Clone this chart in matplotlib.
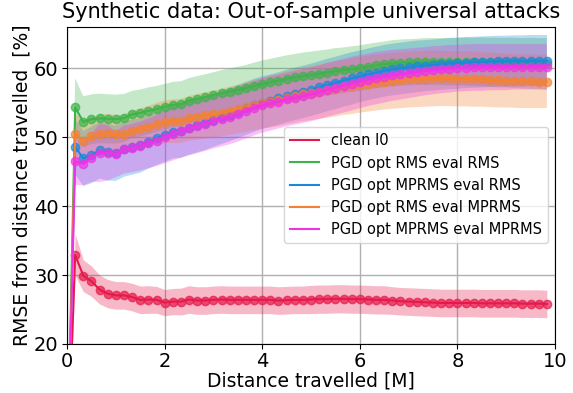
import numpy as np
import matplotlib
matplotlib.use("Agg")
import matplotlib.pyplot as plt

# 采样点: 每 1/6 M 一个
dist = np.arange(60) / 6

clean_mean = [0, 32.9, 29.9, 29.1, 27.9, 27.3, 27.05, 27.05, 26.8, 26.4,
              26.45, 26.4, 26.0, 26.15, 26.15, 26.45, 26.3, 26.3, 26.4, 26.45,
              26.4, 26.4, 26.4, 26.4, 26.4, 26.4, 26.3, 26.35, 26.4, 26.4,
              26.45, 26.5, 26.5, 26.55, 26.55, 26.5, 26.5, 26.45, 26.4, 26.4,
              26.3, 26.2, 26.15, 26.1, 26.05, 26.0, 25.95, 25.95, 25.95, 25.95,
              25.95, 25.9, 25.9, 25.9, 25.9, 25.9, 25.85, 25.85, 25.85, 25.8]
clean_std = [0, 3.0, 2.3, 2.2, 2.1, 2.05, 2.0, 2.0, 2.0, 2.0,
             2.0, 1.95, 1.9, 1.9, 1.95, 2.0, 2.0, 2.0, 2.0, 2.0,
             2.0, 2.0, 2.0, 2.0, 2.0, 2.0, 2.0, 2.0, 2.0, 2.0,
             2.05, 2.05, 2.05, 2.05, 2.05, 2.05, 2.05, 2.05, 2.05, 2.05,
             2.0, 2.0, 2.0, 2.0, 2.0, 2.0, 2.0, 2.0, 2.0, 2.0,
             2.0, 2.0, 2.0, 2.0, 2.0, 2.0, 2.0, 2.0, 2.0, 2.0]

rms_rms_mean = [0, 54.3, 52.2, 52.6, 52.7, 52.65, 52.6, 52.75, 53.3, 53.5,
                53.8, 54.05, 54.4, 54.7, 54.8, 55.3, 55.55, 55.8, 56.1, 56.35,
                56.6, 56.85, 57.1, 57.4, 57.7, 57.95, 58.2, 58.45, 58.65, 58.85,
                59.0, 59.2, 59.35, 59.55, 59.7, 59.85, 60.0, 60.2, 60.4, 60.55,
                60.7, 60.8, 60.85, 60.9, 60.95, 60.95, 60.95, 60.95, 60.95, 60.95,
                60.9, 60.9, 60.85, 60.8, 60.8, 60.75, 60.7, 60.7, 60.65, 60.6]
rms_rms_std = [0, 4.25, 3.7, 3.6, 3.6, 3.55, 3.55, 3.5, 3.4, 3.4,
               3.4, 3.35, 3.3, 3.3, 3.3, 3.25, 3.3, 3.3, 3.3, 3.35,
               3.35, 3.35, 3.35, 3.4, 3.4, 3.4, 3.4, 3.4, 3.4, 3.4,
               3.4, 3.35, 3.35, 3.35, 3.3, 3.3, 3.3, 3.3, 3.3, 3.3,
               3.35, 3.35, 3.35, 3.35, 3.4, 3.4, 3.4, 3.45, 3.45, 3.5,
               3.5, 3.55, 3.55, 3.6, 3.6, 3.65, 3.65, 3.7, 3.7, 3.75]

mp_rms_mean = [0, 48.6, 46.9, 47.4, 48.1, 47.8, 47.65, 48.25, 48.55, 48.8,
               49.3, 49.85, 50.3, 50.8, 50.9, 51.35, 51.7, 52.05, 52.45, 52.85,
               53.25, 53.7, 54.15, 54.6, 55.0, 55.3, 55.6, 55.95, 56.25, 56.55,
               56.85, 57.2, 57.55, 57.85, 58.2, 58.5, 58.8, 59.1, 59.35, 59.6,
               59.8, 59.95, 60.1, 60.25, 60.35, 60.45, 60.55, 60.65, 60.7, 60.8,
               60.85, 60.9, 60.95, 61.0, 61.0, 61.05, 61.05, 61.1, 61.1, 61.1]
mp_rms_std = [0, 4.0, 4.0, 4.1, 4.1, 4.1, 4.0, 4.0, 4.0, 3.95,
              3.9, 3.9, 3.9, 3.9, 3.9, 3.9, 3.9, 3.9, 3.85, 3.85,
              3.85, 3.85, 3.85, 3.85, 3.8, 3.8, 3.8, 3.8, 3.8, 3.8,
              3.8, 3.8, 3.8, 3.8, 3.8, 3.8, 3.75, 3.75, 3.75, 3.75,
              3.75, 3.75, 3.75, 3.75, 3.7, 3.7, 3.7, 3.7, 3.7, 3.7,
              3.7, 3.7, 3.7, 3.7, 3.7, 3.7, 3.7, 3.7, 3.7, 3.7]

rms_mp_mean = [0, 50.4, 49.5, 50.1, 50.4, 50.6, 50.4, 50.4, 50.9, 51.2,
               51.5, 51.9, 52.2, 52.3, 52.35, 52.7, 52.95, 53.15, 53.35, 53.55,
               53.8, 54.05, 54.35, 54.65, 54.9, 55.15, 55.4, 55.7, 55.95, 56.2,
               56.4, 56.6, 56.8, 57.0, 57.2, 57.4, 57.6, 57.75, 57.9, 58.05,
               58.15, 58.25, 58.35, 58.4, 58.45, 58.5, 58.5, 58.5, 58.45, 58.45,
               58.4, 58.35, 58.3, 58.25, 58.2, 58.15, 58.1, 58.1, 58.05, 58.05]
rms_mp_std = [0, 3.0, 2.9, 2.8, 2.8, 2.8, 2.8, 2.85, 2.9, 2.95,
              3.0, 3.05, 3.1, 3.15, 3.2, 3.25, 3.3, 3.35, 3.4, 3.45,
              3.5, 3.55, 3.6, 3.65, 3.7, 3.75, 3.8, 3.85, 3.9, 3.9,
              3.95, 3.95, 4.0, 4.0, 4.0, 4.05, 4.05, 4.05, 4.05, 4.05,
              4.05, 4.05, 4.05, 4.05, 4.05, 4.05, 4.0, 4.0, 4.0, 4.0,
              4.0, 3.95, 3.95, 3.95, 3.9, 3.9, 3.9, 3.9, 3.85, 3.85]

mp_mp_mean = [0, 46.5, 46.1, 47.0, 47.7, 47.7, 47.5, 48.2, 48.4, 48.7,
              49.1, 49.5, 50.0, 50.5, 50.95, 51.3, 51.6, 51.95, 52.3, 52.6,
              52.9, 53.3, 53.75, 54.2, 54.6, 54.9, 55.15, 55.45, 55.7, 55.95,
              56.2, 56.5, 56.85, 57.15, 57.45, 57.75, 58.05, 58.3, 58.55, 58.75,
              58.95, 59.1, 59.25, 59.4, 59.55, 59.7, 59.8, 59.9, 60.0, 60.05,
              60.1, 60.1, 60.15, 60.15, 60.15, 60.2, 60.2, 60.2, 60.2, 60.2]
mp_mp_std = [0, 3.4, 3.1, 3.5, 4.2, 4.0, 3.3, 3.5, 3.5, 3.55,
             3.6, 3.7, 3.8, 3.9, 3.95, 3.95, 3.95, 3.95, 3.95, 3.95,
             3.95, 3.95, 3.95, 3.95, 3.95, 3.95, 3.9, 3.9, 3.9, 3.9,
             3.9, 3.9, 3.9, 3.9, 3.9, 3.9, 3.85, 3.8, 3.8, 3.75,
             3.7, 3.65, 3.6, 3.55, 3.5, 3.5, 3.45, 3.45, 3.4, 3.4,
             3.4, 3.4, 3.35, 3.35, 3.35, 3.3, 3.3, 3.3, 3.3, 3.3]

labels = ['clean l0', 'PGD opt RMS eval RMS', 'PGD opt MPRMS eval RMS',
          'PGD opt RMS eval MPRMS', 'PGD opt MPRMS eval MPRMS']
colors = ['#e6194b', '#3cb44b', '#1a8ad8', '#f58231', '#f032e6']
means = [clean_mean, rms_rms_mean, mp_rms_mean, rms_mp_mean, mp_mp_mean]
stds = [clean_std, rms_rms_std, mp_rms_std, rms_mp_std, mp_mp_std]

fig = plt.figure(figsize=(5.73, 3.93), dpi=100)
ax = fig.add_axes([0.117, 0.1247, 0.8516, 0.8073])

for lab, c, m, s in zip(labels, colors, means, stds):
    m = np.array(m)
    s = np.array(s)
    ax.fill_between(dist, m - s, m + s, color=c, alpha=0.3, lw=0)
    ax.plot(dist, m, color=c, lw=1.5, label=lab)
    ax.plot(dist, m, 'o', color=c, ms=6, alpha=0.7)

ax.set_xlim(0, 10)
ax.set_ylim(20, 66)
ax.set_xticks([0, 2, 4, 6, 8, 10])
ax.set_yticks([20, 30, 40, 50, 60])
ax.tick_params(labelsize=14, pad=2.5)
ax.grid(True, color='#b0b0b0', lw=1)
ax.set_axisbelow(True)
ax.set_xlabel('Distance travelled [M]', fontsize=13.5, labelpad=0)
ax.set_ylabel('RMSE from distance travelled  [%]', fontsize=13.5, labelpad=2)
ax.set_title('Synthetic data: Out-of-sample universal attacks', fontsize=15)
ax.legend(loc='center right', fontsize=10.5)

fig.savefig('out.png', dpi=100)
